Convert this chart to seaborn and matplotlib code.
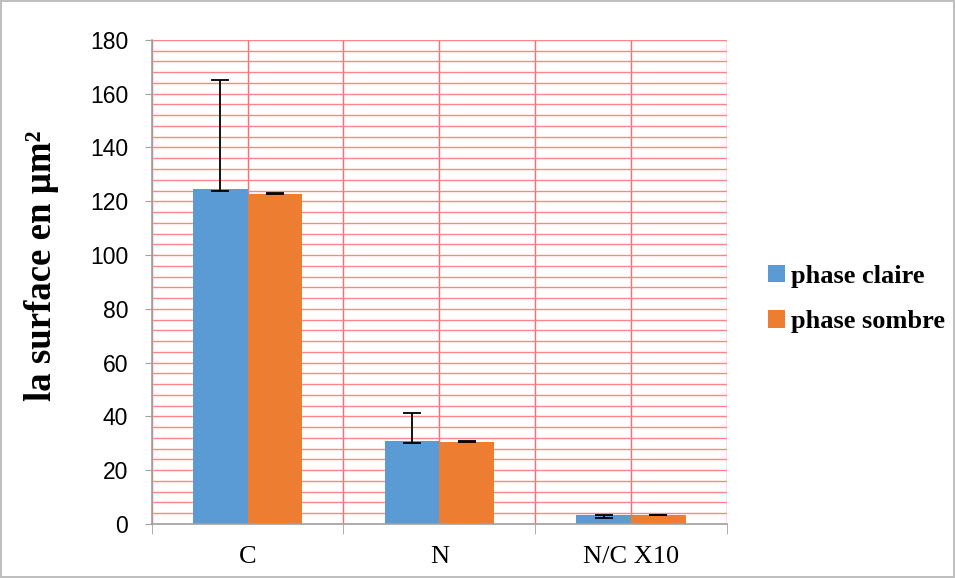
import numpy as np
import pandas as pd
import seaborn as sns
import matplotlib.pyplot as plt
from matplotlib.ticker import MultipleLocator, FixedLocator

categories = ['C', 'N', 'N/C X10']
phases = ['phase claire', 'phase sombre']
claire = [124.4, 30.9, 3.35]
sombre = [122.8, 30.6, 3.4]
claire_err_lo = [0.7, 0.9, 1.0]
claire_err_hi = [40.5, 10.4, 0.1]
sombre_err_lo = [0.2, 0.1, 0.05]
sombre_err_hi = [0.3, 0.3, 0.1]

df = pd.DataFrame({
    'cat': categories * 2,
    'val': claire + sombre,
    'phase': [phases[0]] * 3 + [phases[1]] * 3,
})

sns.set_style('white')
plt.rcParams['font.family'] = ['Liberation Serif', 'DejaVu Serif']
plt.rcParams['text.color'] = 'black'
plt.rcParams['axes.labelcolor'] = 'black'
plt.rcParams['xtick.color'] = 'black'
plt.rcParams['ytick.color'] = 'black'

fig = plt.figure(figsize=(9.55, 5.78), dpi=100)
fig.patch.set_edgecolor('#bfbfbf')
fig.patch.set_linewidth(1.5)
ax = fig.add_axes([0.159, 0.0934, 0.602, 0.8376])

sns.barplot(data=df, x='cat', y='val', hue='phase', palette=['#5b9bd5', '#ed7d31'],
            width=0.57, gap=0, errorbar=None, saturation=1, ax=ax, zorder=3,
            edgecolor='none')

errs = [(claire_err_lo, claire_err_hi), (sombre_err_lo, sombre_err_hi)]
for cont, (lo, hi) in zip(ax.containers, errs):
    xs = [p.get_x() + p.get_width() / 2 for p in cont.patches]
    hs = [p.get_height() for p in cont.patches]
    ax.errorbar(xs, hs, yerr=[lo, hi], fmt='none', ecolor='black',
                elinewidth=1.3, capsize=6.5, capthick=1.3, zorder=4)

ax.set_ylim(0, 180)
ax.set_xlim(-0.5, 2.5)
ax.yaxis.set_major_locator(MultipleLocator(20))
ax.yaxis.set_minor_locator(MultipleLocator(4))
ax.xaxis.set_minor_locator(FixedLocator([-0.5, 0.5, 1.5, 2.5]))
ax.grid(True, which='both', axis='y', color='#ff8585', lw=1, zorder=0)
ax.grid(True, which='both', axis='x', color='#ff6a6a', lw=1, zorder=0)
ax.set_axisbelow(True)

for s in ['top', 'right']:
    ax.spines[s].set_visible(False)
for s in ['left', 'bottom']:
    ax.spines[s].set_color('#a0a0a0')
    ax.spines[s].set_linewidth(1.2)
    ax.spines[s].set_zorder(5)

ax.tick_params(axis='y', which='major', left=True, length=5, color='#a0a0a0',
               labelsize=16.5, pad=12)
ax.tick_params(axis='y', which='minor', left=False)
ax.tick_params(axis='x', which='major', bottom=False, labelsize=19, pad=12)
ax.tick_params(axis='x', which='minor', bottom=True, length=7, color='#a0a0a0')
for lab in ax.get_yticklabels():
    lab.set_fontfamily('Liberation Sans')

ax.set_xlabel('')
ax.set_ylabel('la surface en µm²', fontsize=26.5, fontweight='bold')
ax.yaxis.set_label_coords(-0.161, 0.533)

handles, labels = ax.get_legend_handles_labels()
ax.legend_.remove()
fig.legend(handles, labels, loc='center left', bbox_to_anchor=(0.779, 0.483),
           frameon=False, handlelength=0.65, handleheight=0.65, handletextpad=0.25,
           labelspacing=0.85, prop={'size': 19, 'weight': 'bold', 'family': 'Liberation Serif'})

fig.savefig('out.png', dpi=100)
